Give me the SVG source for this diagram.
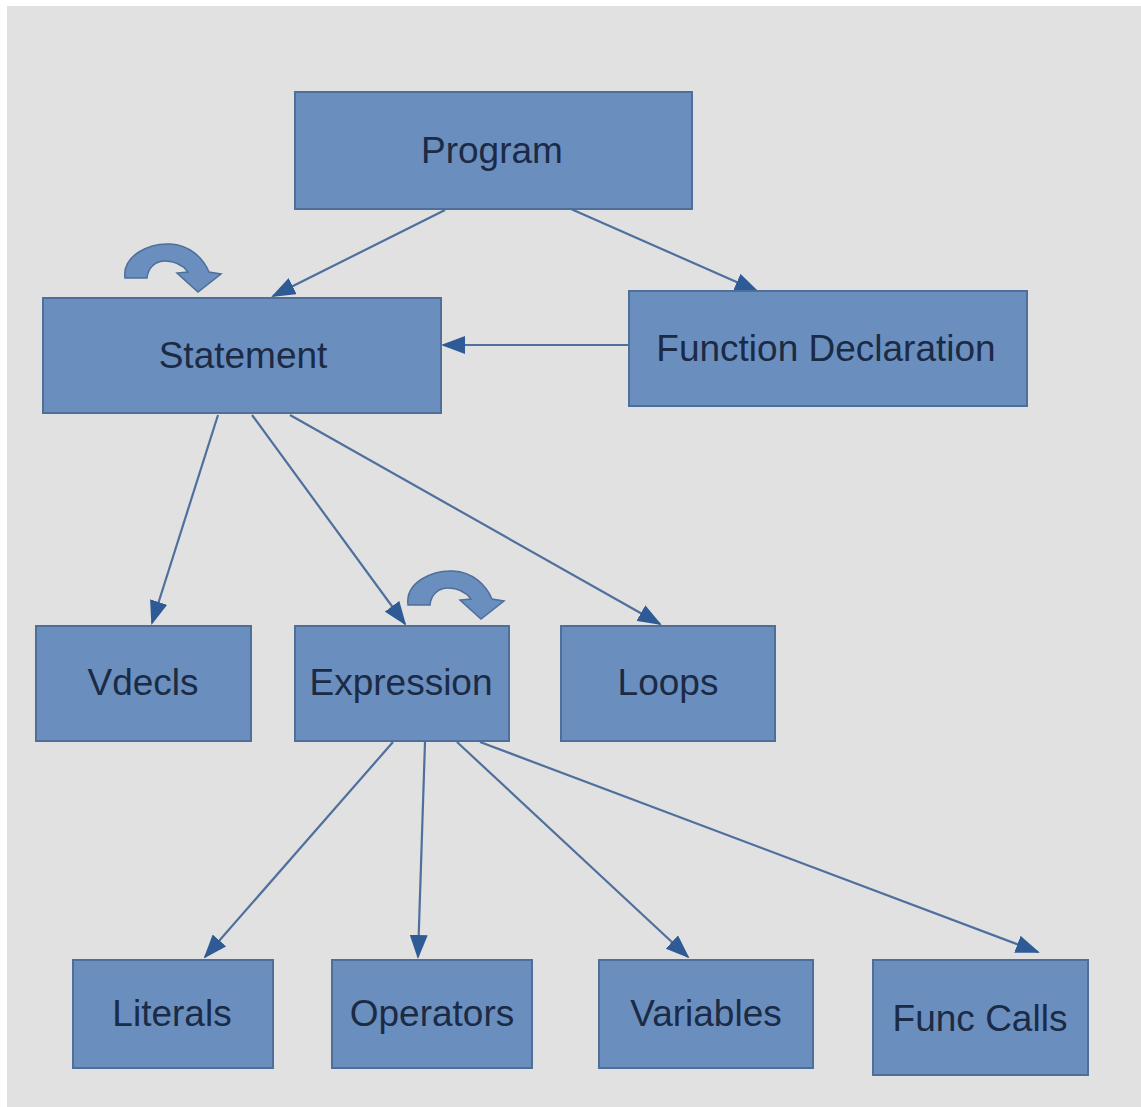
<svg xmlns="http://www.w3.org/2000/svg" width="1141" height="1107" viewBox="0 0 1141 1107">
<style>
.box{fill:#6a8fbe;stroke:#4d6f99;stroke-width:2}
.lbl{font-family:"Liberation Sans",Arial,sans-serif;font-size:37px;fill:#1b2a45;text-anchor:middle;dominant-baseline:central}
.edge{stroke:#4f6f9c;stroke-width:2.2;fill:none;marker-end:url(#ah)}
.loop{fill:#6a8fbe;stroke:#4d6f99;stroke-width:1.5}
</style>
<defs>
<marker id="ah" viewBox="0 0 24 18" refX="22" refY="9" markerWidth="24" markerHeight="18" markerUnits="userSpaceOnUse" orient="auto">
<path d="M0,0 L24,9 L0,18 Z" fill="#2e5a95"/>
</marker>
<path id="curl" d="M125,278 C122,255 150,243 170,244 C190,245 203,258 209,272 L221,274 L198,292 L177,273 L188,272 C182,264 175,261 165,261 C155,261 148,268 147,278 Z"/>
</defs>
<rect x="0" y="0" width="1141" height="1107" fill="#ffffff"/>
<rect x="7" y="6" width="1134" height="1101" fill="#e1e1e1"/>
<g id="connectors">
<line class="edge" x1="445" y1="210" x2="273" y2="296"/>
<line class="edge" x1="571" y1="209" x2="757" y2="291"/>
<line class="edge" x1="629" y1="345" x2="443" y2="345"/>
<line class="edge" x1="218" y1="415" x2="152" y2="623"/>
<line class="edge" x1="252" y1="415" x2="405" y2="624"/>
<line class="edge" x1="290" y1="415" x2="660" y2="624"/>
<line class="edge" x1="393" y1="742" x2="205" y2="957"/>
<line class="edge" x1="425" y1="742" x2="418" y2="957"/>
<line class="edge" x1="457" y1="742" x2="688" y2="957"/>
<line class="edge" x1="480" y1="742" x2="1038" y2="952"/>
<use href="#curl" class="loop"/>
<use href="#curl" class="loop" transform="translate(283,327)"/>
</g>
<g id="program"><rect class="box" x="295" y="92" width="397" height="117"/><text class="lbl" x="492" y="150">Program</text></g>
<g id="statement"><rect class="box" x="43" y="298" width="398" height="115"/><text class="lbl" x="243" y="355">Statement</text></g>
<g id="function-declaration"><rect class="box" x="629" y="291" width="398" height="115"/><text class="lbl" x="826" y="348">Function Declaration</text></g>
<g id="vdecls"><rect class="box" x="36" y="626" width="215" height="115"/><text class="lbl" x="143" y="682">Vdecls</text></g>
<g id="expression"><rect class="box" x="295" y="626" width="214" height="115"/><text class="lbl" x="401" y="682">Expression</text></g>
<g id="loops"><rect class="box" x="561" y="626" width="214" height="115"/><text class="lbl" x="668" y="682">Loops</text></g>
<g id="literals"><rect class="box" x="73" y="960" width="200" height="108"/><text class="lbl" x="172" y="1013">Literals</text></g>
<g id="operators"><rect class="box" x="332" y="960" width="200" height="108"/><text class="lbl" x="432" y="1013">Operators</text></g>
<g id="variables"><rect class="box" x="599" y="960" width="214" height="108"/><text class="lbl" x="706" y="1013">Variables</text></g>
<g id="func-calls"><rect class="box" x="873" y="960" width="215" height="115"/><text class="lbl" x="980" y="1018">Func Calls</text></g>
</svg>
